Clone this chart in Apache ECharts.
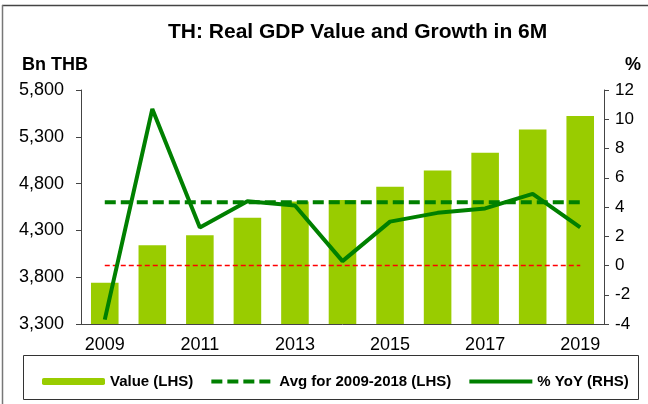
<html>
<head>
<meta charset="UTF-8">
<script src="https://cdn.jsdelivr.net/npm/echarts@6/dist/echarts.min.js"></script>
<style>
	body{margin:0;background:#fff;}
	#pic{width:648px;height:404px;}
</style>
</head>
<body>
<div id="pic"></div>
<script>
	"use strict";

	// data
	const years=["2009","2010","2011","2012","2013","2014","2015","2016","2017","2018","2019"];
	const gdpValue=[3741,4141,4247,4435,4610,4624,4766,4941,5129,5379,5521];
	const yoyGrowth=[-3.7,10.7,2.6,4.4,4.1,0.3,3.0,3.6,3.9,4.9,2.6];
	const avgValue=4602;
	const leftTicks=[3300,5800,500];
	const rightTicks=[-4,12,2];

	const avgLine=years.map(()=>avgValue);
	const zeroLine=years.map(()=>0);

	const font="Liberation Sans, Arial, sans-serif";
	let pic=echarts.init(document.getElementById("pic"));
	let option=
		{
			animation:false,
			textStyle:{fontFamily:font},
			title:{
				text:"TH: Real GDP Value and Growth in 6M",
				left:163,top:17,
				textStyle:{fontSize:21,fontWeight:"bold",color:"#000",fontFamily:font}
			},
			graphic:[
				{type:"line",shape:{x1:2,y1:5.5,x2:648,y2:5.5},style:{stroke:"#444",lineWidth:1.5}},
				{type:"line",shape:{x1:2.5,y1:5,x2:2.5,y2:404},style:{stroke:"#777",lineWidth:1.5}},
				{type:"rect",shape:{x:23.5,y:355.5,width:615,height:44},style:{fill:"none",stroke:"#333",lineWidth:1}},
				{type:"text",left:22,top:56,style:{text:"Bn THB",font:"bold 18px "+font,fill:"#000"}},
				{type:"text",left:625,top:56,style:{text:"%",font:"bold 18px "+font,fill:"#000"}}
			],
			grid:{left:81,right:44,top:90,bottom:80},
			legend:{
				data:[
					{name:"Value (LHS)"},
					{name:"Avg for 2009-2018 (LHS)",itemStyle:{opacity:0},lineStyle:{width:4}},
					{name:"% YoY (RHS)",itemStyle:{opacity:0},lineStyle:{width:4}}
				],
				left:37,top:369,
				itemWidth:63,itemHeight:7,itemGap:16,
				textStyle:{fontSize:15,fontWeight:"bold",color:"#000",fontFamily:font}
			},
			xAxis:{
				type:"category",
				data:years,
				axisLine:{onZero:false,lineStyle:{color:"#444",width:1}},
				axisTick:{length:6,lineStyle:{color:"#444"}},
				axisLabel:{interval:1,fontSize:18,color:"#000",margin:12}
			},
			yAxis:[
				{
					type:"value",min:leftTicks[0],max:leftTicks[1],interval:leftTicks[2],
					splitLine:{show:false},
					axisLine:{show:true,lineStyle:{color:"#444"}},
					axisTick:{show:true,length:5,lineStyle:{color:"#444"}},
					axisLabel:{fontSize:18,color:"#000",margin:17,formatter:v=>v.toLocaleString("en-US")}
				},
				{
					type:"value",min:rightTicks[0],max:rightTicks[1],interval:rightTicks[2],
					splitLine:{show:false},
					axisLine:{show:true,lineStyle:{color:"#444"}},
					axisTick:{show:true,length:5,lineStyle:{color:"#444"}},
					axisLabel:{fontSize:17,color:"#000",margin:11}
				}
			],
			series:[
				{
					name:"Value (LHS)",type:"bar",data:gdpValue,barWidth:"58%",
					itemStyle:{color:"#99CC00"}
				},
				{
					name:"zero",type:"line",yAxisIndex:1,data:zeroLine,symbol:"none",
					lineStyle:{color:"#FF0000",width:1.5,type:[5,3]},z:3
				},
				{
					name:"Avg for 2009-2018 (LHS)",type:"line",data:avgLine,symbol:"none",
					lineStyle:{color:"#008000",width:4,type:[11,5]},itemStyle:{color:"#008000"},z:4
				},
				{
					name:"% YoY (RHS)",type:"line",yAxisIndex:1,data:yoyGrowth,symbol:"none",
					lineStyle:{color:"#008000",width:4},itemStyle:{color:"#008000"},z:5
				}
			]
		};
	pic.setOption(option);
</script>
</body>
</html>
